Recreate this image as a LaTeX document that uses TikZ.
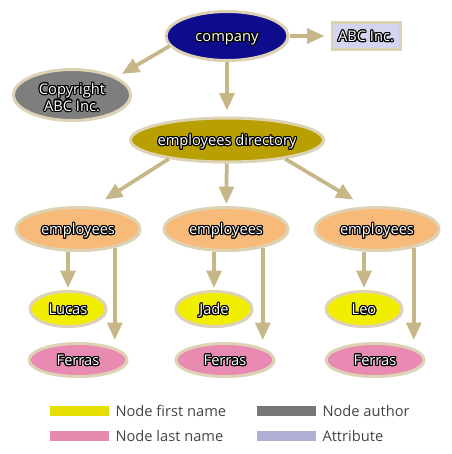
\documentclass[tikz,border=0pt]{standalone}
\usepackage{fontspec}
\setmainfont{Open Sans}
\usepackage[copies]{contour}
\usetikzlibrary{positioning}
\usetikzlibrary{shapes.geometric}
\usetikzlibrary{arrows.meta}
\usetikzlibrary{shadows}

\definecolor{rim}{HTML}{DDD2B4}
\definecolor{linkc}{HTML}{C6B688}
\definecolor{navy}{HTML}{0C0C8C}
\definecolor{slate}{HTML}{7E7E7E}
\definecolor{olive}{HTML}{B9A000}
\definecolor{peach}{HTML}{F8BA78}
\definecolor{lemon}{HTML}{F2EE00}
\definecolor{rose}{HTML}{E98AB2}
\definecolor{lilac}{HTML}{D4D4F0}
\definecolor{keyyellow}{HTML}{E6DE00}
\definecolor{keyrose}{HTML}{E48AAC}
\definecolor{keygray}{HTML}{777777}
\definecolor{keylilac}{HTML}{B0B0D6}
\definecolor{legendtext}{HTML}{444444}

\contourlength{0.8pt}
\newcommand{\outl}[1]{\contour{black}{#1}}

\begin{document}
\begin{tikzpicture}[x=0.75pt,y=-0.75pt,>={Triangle[width=11pt,length=13pt]},auto]
		\tikzstyle{bubble}=[ellipse,draw=rim,line width=2.25pt,inner xsep=-10pt,inner ysep=-4pt,
			text=white,align=center,font=\fontsize{11}{12.5}\selectfont,
			drop shadow={shadow xshift=1pt,shadow yshift=-1pt,opacity=0.25}]
		\tikzstyle{oneline}=[text height=8.5pt,text depth=0pt]
		\tikzstyle{attr}=[rectangle,draw=rim,line width=2.25pt,fill=lilac,minimum width=51pt,minimum height=20.25pt,
			inner sep=0pt,text=white,font=\fontsize{11}{12.5}\selectfont,oneline,
			drop shadow={shadow xshift=1pt,shadow yshift=-1pt,opacity=0.25}]
		\tikzstyle{emp}=[bubble,oneline,fill=peach,minimum width=93pt,minimum height=32.25pt]
		\tikzstyle{first}=[bubble,oneline,fill=lemon,minimum width=57pt,minimum height=26.25pt]
		\tikzstyle{last}=[bubble,oneline,fill=rose,minimum width=73.5pt,minimum height=24.75pt]
		\tikzstyle{link}=[->,color=linkc,line width=2.8pt]
		\tikzstyle{key}=[rectangle,inner sep=0pt,minimum width=44.25pt,minimum height=7.5pt]
		\tikzstyle{legend}=[inner sep=0pt,text=legendtext,font=\fontsize{11}{12.5}\selectfont]
		
		\useasboundingbox (0,0) rectangle (452,454);
		
		\node[bubble,oneline,fill=navy,minimum width=91.5pt,minimum height=36.75pt] (company) at (227,36) {\outl{company}};
		\node[attr]    (abc)       [right of=company,node distance=104.25pt] {\outl{ABC Inc.}};
		\node[bubble,fill=slate,minimum width=87.75pt,minimum height=38.25pt] (copyright) at (72,95) {\rule{0pt}{12.5pt}\outl{Copyright}\\\outl{ABC Inc.}};
		\node[bubble,oneline,fill=olive,minimum width=144.75pt,minimum height=33pt] (directory) [below of=company,node distance=78pt] {\outl{employees directory}};
		
		\node[emp]   (emp1) at (78,229)  {\outl{employees}};
		\node[emp]   (emp2) at (226,229) {\outl{employees}};
		\node[emp]   (emp3) at (377,229) {\outl{employees}};
		
		\node[first] (fn1) at (68,309)  {\outl{Lucas}};
		\node[first] (fn2) at (214,309) {\outl{Jade}};
		\node[first] (fn3) at (364,309) {\outl{Leo}};
		
		\node[last]  (ln1) at (78,360)  {\outl{Ferras}};
		\node[last]  (ln2) at (225,360) {\outl{Ferras}};
		\node[last]  (ln3) at (375,360) {\outl{Ferras}};
		
		\path[link] (company.-170) edge [shorten >=4.5pt]  (copyright.22)
		(company)       edge [shorten >=4.5pt]  (abc)
		(company)       edge [shorten >=4.5pt]  (directory)
		(directory.-162) edge [shorten >=10pt]  (emp1.55)
		(directory)     edge [shorten >=1.5pt]  (emp2)
		(directory.-18) edge [shorten >=10pt]   (emp3.118)
		(fn1 |- emp1.south) edge [shorten >=1.5pt] (fn1)
		(fn2 |- emp2.south) edge [shorten >=1.5pt] (fn2)
		(fn3 |- emp3.south) edge [shorten >=1.5pt] (fn3)
		(emp1.-27)      edge [shorten >=1.5pt]  (emp1.-27 |- ln1.north)
		(emp2.-27)      edge [shorten >=1.5pt]  (emp2.-27 |- ln2.north)
		(emp3.-27)      edge [shorten >=1.5pt]  (emp3.-27 |- ln3.north)
		;
		
		% legend
		\node[key,fill=keyyellow] (keyfirst)  at (79.5,411)  {};
		\node[key,fill=keyrose]   (keylast)   at (79.5,436)  {};
		\node[key,fill=keygray]   (keyauthor) at (286.5,411) {};
		\node[key,fill=keylilac]  (keyattr)   at (286.5,436) {};
		\node[legend] (txtfirst)  [right=4.5pt of keyfirst]  {Node first name};
		\node[legend] (txtlast)   [right=4.5pt of keylast]   {Node last name};
		\node[legend] (txtauthor) [right=4.5pt of keyauthor] {Node author};
		\node[legend] (txtattr)   [right=4.5pt of keyattr]   {Attribute};
		\end{tikzpicture}
\end{document}
